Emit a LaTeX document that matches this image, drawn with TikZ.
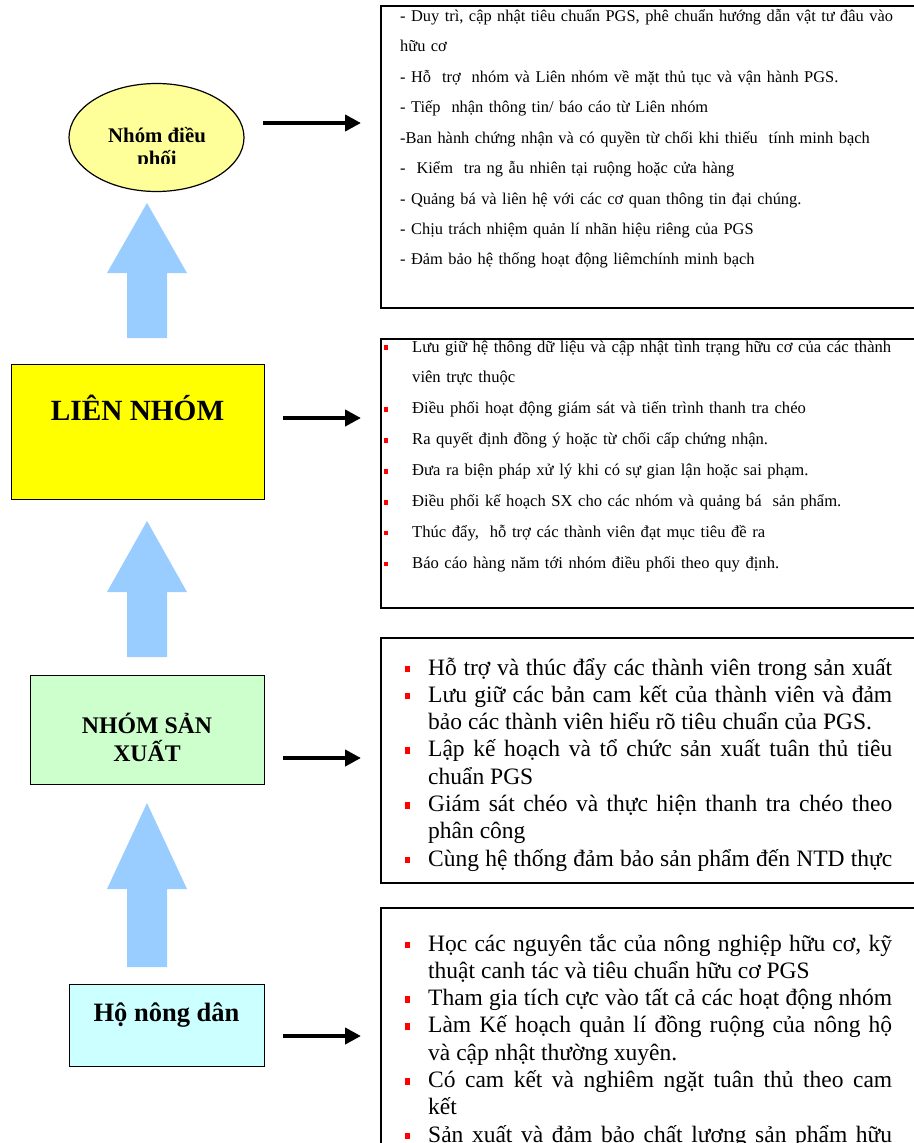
\documentclass[tikz,border=0pt]{standalone}
\usepackage{fontspec}
\setmainfont{Liberation Serif}
\usetikzlibrary{arrows.meta,shapes.geometric}

\definecolor{ndyellow}{HTML}{FFFF99}
\definecolor{lnyellow}{HTML}{FFFF00}
\definecolor{sxgreen}{HTML}{CCFFCC}
\definecolor{hocyan}{HTML}{CCFFFF}
\definecolor{upblue}{HTML}{99CCFF}
\definecolor{bulred}{HTML}{FF0000}

\tikzset{
  levelbox/.style={draw, line width=1.3pt, anchor=north west, inner sep=0pt},
  infobox/.style={draw, line width=1.8pt, anchor=north west, inner sep=0pt},
  levellbl/.style={anchor=base, inner sep=0pt, align=center},
  infotxt/.style={anchor=base west, inner sep=0pt},
  pointer/.style={line width=4pt, -{Triangle[length=16pt,width=16pt]}}
}

% red square bullet, hung into the left margin
\newcommand{\bitem}[3]{\noindent\hspace*{-#1}\makebox[#1][l]{\textcolor{bulred}{\rule[#3]{#2}{1.3\dimexpr#2\relax}}}}
\newcommand{\fullpar}{{\parfillskip=0pt\par}}

\begin{document}
\begin{tikzpicture}[x=1pt,y=-1pt]
  \useasboundingbox (0,0) rectangle (913,1143);

  % levels on the left
  \node[ellipse, draw, line width=1.2pt, fill=ndyellow, inner sep=0pt,
        minimum width=175, minimum height=108] (nd) at (156.5,137.5) {};
  \begin{scope}
    \clip (60,90) rectangle (250,163.5);
    \node[levellbl, font=\bfseries\fontsize{20.8}{23}\selectfont] (ndtxt) at (157,165) {Nhóm điều\\phối};
  \end{scope}
  \node[levelbox, fill=lnyellow, minimum width=253, minimum height=135] (ln) at (11,364) {};
  \node[levellbl, font=\bfseries\fontsize{29.3}{34}\selectfont] (lntxt) at (137.5,420) {LIÊN NHÓM};
  \node[levelbox, fill=sxgreen, minimum width=234, minimum height=109] (sx) at (30,675) {};
  \node[levellbl, font=\bfseries\fontsize{23.8}{28}\selectfont] (sxtxt) at (147,761) {NHÓM SẢN\\XUẤT};
  \node[levelbox, fill=hocyan, minimum width=195, minimum height=82] (hnd) at (69,984) {};
  \node[levellbl, font=\bfseries\fontsize{26.5}{30}\selectfont] (hndtxt) at (166.5,1021) {Hộ nông dân};

  % big up arrows
  \foreach \tip/\neck/\tail in {203/273/338, 521/592/657, 803/889/967}
    \fill[upblue] (127,\tail) -- (127,\neck) -- (107,\neck) -- (147,\tip)
      -- (187,\neck) -- (167,\neck) -- (167,\tail) -- cycle;

  % task boxes on the right
  \node[infobox, minimum width=560, minimum height=302] (b1) at (380,5) {};
  \node[infobox, minimum width=560, minimum height=269] (b2) at (380,338) {};
  \node[infobox, minimum width=560, minimum height=245] (b3) at (380,637) {};
  \node[infobox, minimum width=560, minimum height=300] (b4) at (380,907) {};

  \node[infotxt, text width=505, align=left, font=\fontsize{16.4}{30.5}\selectfont] (t1) at (400,21) {%
    - Duy trì, cập nhật tiêu chuẩn PGS, phê chuẩn hướng dẫn vật tư đâu vào\\
    hữu cơ\\
    - Hỗ~ trợ~ nhóm và Liên nhóm về mặt thủ tục và vận hành PGS.\\
    - Tiếp~ nhận thông tin/ báo cáo từ Liên nhóm\\
    -Ban hành chứng nhận và có quyền từ chối khi thiếu~ tính minh bạch\\
    -~ Kiểm~ tra ng ẫu nhiên tại ruộng hoặc cửa hàng\\
    - Quảng bá và liên hệ với các cơ quan thông tin đại chúng.\\
    - Chịu trách nhiệm quản lí nhãn hiệu riêng của PGS\\
    - Đảm bảo hệ thống hoạt động liêmchính minh bạch};

  \node[infotxt, text width=520, align=left, font=\fontsize{16.6}{30.9}\selectfont] (t2) at (384,352) {%
    \leftskip=28pt
    \bitem{28pt}{3.6pt}{2pt}Lưu giữ hệ thông dữ liệu và cập nhật tình trạng hữu cơ của các thành\newline viên trực thuộc\par
    \bitem{28pt}{3.6pt}{2pt}Điều phối hoạt động giám sát và tiến trình thanh tra chéo\par
    \bitem{28pt}{3.6pt}{2pt}Ra quyết định đồng ý hoặc từ chối cấp chứng nhận.\par
    \bitem{28pt}{3.6pt}{2pt}Đưa ra biện pháp xử lý khi có sự gian lận hoặc sai phạm.\par
    \bitem{28pt}{3.6pt}{2pt}Điều phối kế hoạch SX cho các nhóm và quảng bá~ sản phẩm.\par
    \bitem{28pt}{3.6pt}{2pt}Thúc đẩy,~ hỗ trợ các thành viên đạt mục tiêu đề ra\par
    \bitem{28pt}{3.6pt}{2pt}Báo cáo hàng năm tới nhóm điều phối theo quy định.\par};

  \node[infotxt, text width=487, align=justify, font=\fontsize{23.5}{27.3}\selectfont] (t3) at (405,675) {%
    \leftskip=23pt
    \bitem{23pt}{5pt}{3pt}Hỗ trợ và thúc đẩy các thành viên trong sản xuất\fullpar
    \bitem{23pt}{5pt}{3pt}Lưu giữ các bản cam kết của thành viên và đảm\linebreak bảo các thành viên hiểu rõ tiêu chuẩn của PGS.\par
    \bitem{23pt}{5pt}{3pt}Lập kế hoạch và tổ chức sản xuất tuân thủ tiêu\linebreak chuẩn PGS\par
    \bitem{23pt}{5pt}{3pt}Giám sát chéo và thực hiện thanh tra chéo theo\linebreak phân công\par
    \bitem{23pt}{5pt}{3pt}Cùng hệ thống đảm bảo sản phẩm đến NTD thực\fullpar};

  \node[infotxt, text width=487, align=justify, font=\fontsize{23.5}{27.3}\selectfont] (t4) at (405,951) {%
    \leftskip=23pt
    \bitem{23pt}{5pt}{3pt}Học các nguyên tắc của nông nghiệp hữu cơ, kỹ\linebreak thuật canh tác và tiêu chuẩn hữu cơ PGS\par
    \bitem{23pt}{5pt}{3pt}Tham gia tích cực vào tất cả các hoạt động nhóm\fullpar
    \bitem{23pt}{5pt}{3pt}Làm Kế hoạch quản lí đồng ruộng của nông hộ\linebreak và cập nhật thường xuyên.\par
    \bitem{23pt}{5pt}{3pt}Có cam kết và nghiêm ngặt tuân thủ theo cam\linebreak kết\par
    \bitem{23pt}{5pt}{3pt}Sản xuất và đảm bảo chất lượng sản phẩm hữu\fullpar};

  % arrows from each level to its tasks
  \coordinate (s1) at (263,123);  \coordinate (e1) at (361,123);
  \coordinate (s2) at (283,418);  \coordinate (e2) at (361,418);
  \coordinate (s3) at (283,758);  \coordinate (e3) at (361,758);
  \coordinate (s4) at (283,1036); \coordinate (e4) at (361,1036);
  \foreach \from/\to in {s1/e1,s2/e2,s3/e3,s4/e4}
    \draw[pointer] (\from) -- (\to);
\end{tikzpicture}
\end{document}
